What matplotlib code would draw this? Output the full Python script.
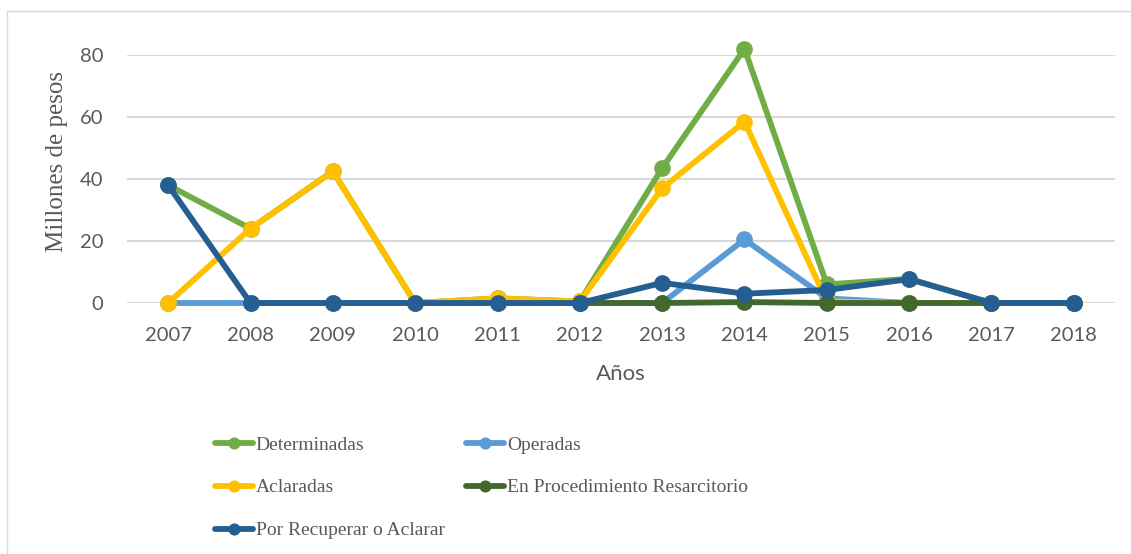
import matplotlib
matplotlib.use("Agg")
import matplotlib.pyplot as plt
from matplotlib.patches import Rectangle

nan = float("nan")
years = ["2007", "2008", "2009", "2010", "2011", "2012",
         "2013", "2014", "2015", "2016", "2017", "2018"]
determinadas = [38, 24, 42.5, 0, 1.5, 0.5, 43.5, 82, 6, 7.8, 0, 0]
operadas = [0, 0, 0, 0, 0, 0, 0, 20.5, 1.5, 0, 0, 0]
aclaradas = [0, 24, 42.5, 0, 1.5, 0.5, 37, 58.5, 0.5, 0, 0, 0]
procedimiento = [nan, nan, nan, nan, nan, 0, 0, 0.3, 0, 0, 0, 0]
por_recuperar = [38, 0, 0, 0, 0, 0, 6.5, 3, 4.2, 7.7, 0, 0]
yticks = [0, 20, 40, 60, 80]

series = [
    ("Determinadas", determinadas, "#70AD47"),
    ("Operadas", operadas, "#5B9BD5"),
    ("Aclaradas", aclaradas, "#FFC000"),
    ("En Procedimiento Resarcitorio", procedimiento, "#43682B"),
    ("Por Recuperar o Aclarar", por_recuperar, "#255E91"),
]

W, H = 1131, 554
fig = plt.figure(figsize=(W / 100, H / 100), dpi=100)
fig.patches.append(Rectangle((7 / W, -0.1), 1.2, (H - 11) / H + 0.1,
                             transform=fig.transFigure, fill=False,
                             edgecolor="#D9D9D9", linewidth=1.0))

ax = fig.add_axes([127 / W, (H - 303) / H, (1115 - 127) / W, (303 - 55) / H])
x = list(range(len(years)))
handles = {}
for name, vals, col in series:
    ln, = ax.plot(x, vals, color=col, lw=4.2, marker="o", markersize=11,
                  label=name, clip_on=False, solid_capstyle="round")
    handles[name] = ln

ax.set_xlim(-0.5, len(years) - 0.5)
ax.set_ylim(0, 80)
ax.set_yticks(yticks)
ax.set_xticks(x)
ax.set_xticklabels(years)
ax.grid(axis="y", color="#D9D9D9", lw=1.5)
ax.set_axisbelow(True)
for s in ax.spines.values():
    s.set_visible(False)
ax.tick_params(length=0, labelsize=14.5, labelcolor="#595959")
ax.tick_params(axis="y", pad=17)
ax.tick_params(axis="x", pad=17)
for lab in ax.get_xticklabels() + ax.get_yticklabels():
    lab.set_fontfamily("Lato")

fig.text(57 / W, 1 - 162 / H, "Millones de pesos", rotation=90,
         ha="center", va="center", fontsize=18, color="#595959",
         family="Liberation Serif")
fig.text(621 / W, 1 - 374 / H, "Años", ha="center", va="center",
         fontsize=16, color="#595959", family="Lato")

order = ["Determinadas", "Aclaradas", "Por Recuperar o Aclarar",
         "Operadas", "En Procedimiento Resarcitorio"]
leg = fig.legend([handles[n] for n in order], order, ncol=2,
                 loc="upper left", bbox_to_anchor=(215 / W, 1 - 436 / H),
                 frameon=False, prop={"family": "Liberation Serif", "size": 14},
                 handlelength=1.95, handletextpad=0.15, columnspacing=1.1,
                 labelspacing=1.3, borderpad=0, borderaxespad=0,
                 markerscale=0.7, labelcolor="#595959")

fig.savefig("out.png", dpi=100)
